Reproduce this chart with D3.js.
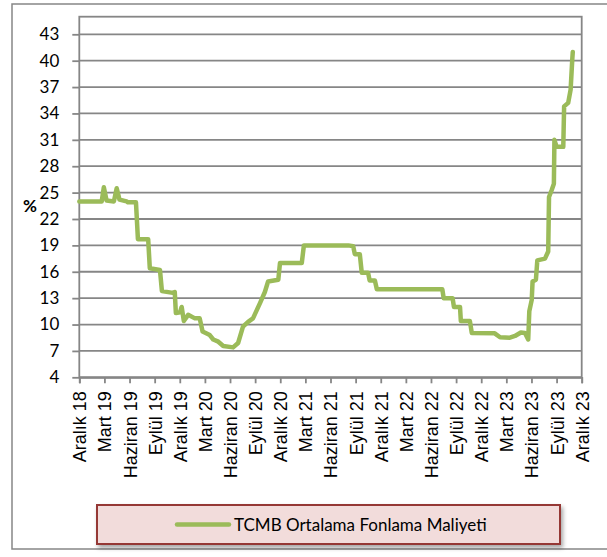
<!DOCTYPE html>
<html lang="tr">
<head>
  <meta charset="UTF-8">
  <title>TCMB Ortalama Fonlama Maliyeti</title>
  <script src="https://unpkg.com/d3@7/dist/d3.min.js"></script>
  <style>
    body { margin: 0; background: #fff; }
    .x-axis text { font-family: "Liberation Sans", Arial, sans-serif; font-size: 18px; fill: #000; }
    .y-axis text { font-family: Lato, "Noto Sans", sans-serif; font-size: 17px; fill: #000; }
  </style>
</head>
<body>
  <svg id="chart" width="607" height="557"></svg>
  <script>
    // tick labels on the x axis, one every 3 months
    const xLabels = ['Aralık 18', 'Mart 19', 'Haziran 19', 'Eylül 19', 'Aralık 19', 'Mart 20', 'Haziran 20',
      'Eylül 20', 'Aralık 20', 'Mart 21', 'Haziran 21', 'Eylül 21', 'Aralık 21', 'Mart 22', 'Haziran 22',
      'Eylül 22', 'Aralık 22', 'Mart 23', 'Haziran 23', 'Eylül 23', 'Aralık 23'];
    const yTicks = [4, 7, 10, 13, 16, 19, 22, 25, 28, 31, 34, 37, 40, 43];

    // series
    const dates = ['2018-12-01', '2019-02-20', '2019-02-27', '2019-03-09', '2019-04-05', '2019-04-15', '2019-04-25',
      '2019-05-21', '2019-05-26', '2019-06-24', '2019-07-01', '2019-08-08', '2019-08-14', '2019-09-20', '2019-09-27',
      '2019-11-06', '2019-11-13', '2019-11-17', '2019-12-02', '2019-12-08', '2019-12-16', '2020-01-01', '2020-01-26',
      '2020-02-12', '2020-02-22', '2020-03-19', '2020-04-01', '2020-04-19', '2020-05-07', '2020-06-12', '2020-06-30',
      '2020-07-18', '2020-08-06', '2020-08-24', '2020-09-18', '2020-10-06', '2020-10-18', '2020-11-24', '2020-11-30',
      '2021-02-17', '2021-02-24', '2021-08-05', '2021-08-23', '2021-08-29', '2021-09-16', '2021-09-23', '2021-10-16',
      '2021-10-22', '2021-11-10', '2021-11-17', '2022-07-12', '2022-07-17', '2022-08-19', '2022-08-24', '2022-09-15',
      '2022-09-18', '2022-10-21', '2022-10-28', '2023-01-20', '2023-02-08', '2023-03-14', '2023-04-02', '2023-04-23',
      '2023-05-08', '2023-05-20', '2023-05-24', '2023-06-02', '2023-06-05', '2023-06-17', '2023-06-22', '2023-07-20',
      '2023-08-01', '2023-08-04', '2023-08-14', '2023-08-22', '2023-08-24', '2023-09-01', '2023-09-25', '2023-09-28',
      '2023-10-13', '2023-10-22', '2023-10-28', '2023-10-30'];
    const values = [24.0, 24.0, 25.6, 24.1, 24.0, 25.5, 24.2,
      24.0, 23.9, 23.9, 19.7, 19.7, 16.4, 16.2, 13.8,
      13.6, 13.7, 11.3, 11.4, 12.0, 10.4, 11.1, 10.7,
      10.7, 9.2, 8.8, 8.3, 8.05, 7.56, 7.4, 7.9,
      9.75, 10.3, 10.7, 12.4, 13.7, 14.9, 15.1, 17.0,
      17.0, 19.0, 19.0, 18.9, 18.0, 18.0, 15.9, 15.9,
      15.0, 15.0, 14.0, 14.0, 13.0, 13.0, 12.0, 12.0,
      10.4, 10.4, 9.05, 9.0, 8.55, 8.5, 8.7, 9.1,
      9.05, 8.3, 11.5, 12.8, 14.9, 15.1, 17.3, 17.5,
      18.3, 24.5, 25.3, 26.0, 31.0, 30.2, 30.2, 34.8,
      35.2, 36.7, 40.1, 41.0];

    // the axis is spaced evenly by month, so dates become month offsets from Aralık 2018
    const monthIndex = s => {
      const [yy, mm, dd] = s.split('-').map(Number);
      const daysInMonth = new Date(yy, mm, 0).getDate();
      return (yy - 2018) * 12 + (mm - 12) + (dd - 1) / daysInMonth;
    };
    const data = dates.map((d, i) => ({ m: monthIndex(d), v: values[i] }));

    const svg = d3.select('#chart');
    const gray = '#868686';
    const plot = { left: 79.3, right: 581.7, top: 16.7, bottom: 377.3 };

    const x = d3.scaleLinear().domain([0, 60]).range([plot.left, plot.right]);
    const y = d3.scaleLinear().domain([4, 43]).range([plot.bottom, 34.3]);

    // shadow for the legend box
    const defs = svg.append('defs');
    defs.append('filter').attr('id', 'shadow')
        .attr('x', '-5%').attr('y', '-30%').attr('width', '110%').attr('height', '160%')
      .append('feDropShadow')
        .attr('dx', 2).attr('dy', 3).attr('stdDeviation', 2)
        .attr('flood-color', '#000').attr('flood-opacity', 0.35);

    // outer frame
    svg.append('rect')
      .attr('x', 12).attr('y', 4)
      .attr('width', 640).attr('height', 545)
      .attr('fill', 'none').attr('stroke', gray).attr('stroke-width', 1.5);

    // gridlines
    svg.append('g').selectAll('line').data(yTicks)
      .enter().append('line')
        .attr('x1', plot.left).attr('x2', plot.right)
        .attr('y1', d => y(d)).attr('y2', d => y(d))
        .attr('stroke', gray).attr('stroke-width', 1.8);

    // plot area border
    svg.append('rect')
      .attr('x', plot.left).attr('y', plot.top)
      .attr('width', plot.right - plot.left).attr('height', plot.bottom - plot.top)
      .attr('fill', 'none').attr('stroke', gray).attr('stroke-width', 1.8);

    const yAxis = svg.append('g')
      .attr('class', 'y-axis')
      .attr('transform', `translate(${plot.left}, 0)`)
      .call(d3.axisLeft(y).tickValues(yTicks).tickSize(7).tickPadding(13));
    yAxis.select('.domain').remove();
    yAxis.selectAll('.tick line').attr('stroke', gray).attr('stroke-width', 1.8);

    const xAxis = svg.append('g')
      .attr('class', 'x-axis')
      .attr('transform', `translate(0, ${plot.bottom})`)
      .call(d3.axisBottom(x).tickValues(d3.range(0, 61, 3)).tickFormat((d, i) => xLabels[i]).tickSize(6));
    xAxis.select('.domain').attr('stroke', gray).attr('stroke-width', 1.8);
    xAxis.selectAll('.tick line').attr('stroke', gray).attr('stroke-width', 1.8);
    xAxis.selectAll('.tick text')
      .attr('transform', 'rotate(-90)')
      .attr('text-anchor', 'end')
      .attr('x', -14)
      .attr('y', 0)
      .attr('dy', '0.36em');

    // % label
    svg.append('text')
      .attr('x', 30).attr('y', 212)
      .attr('text-anchor', 'middle')
      .attr('font-family', 'Lato, sans-serif')
      .attr('font-weight', 'bold')
      .attr('font-size', 17)
      .text('%');

    // series line
    const line = d3.line()
      .x(d => x(d.m))
      .y(d => y(d.v));
    svg.append('path')
      .datum(data)
      .attr('d', line)
      .attr('fill', 'none')
      .attr('stroke', '#9bbb59')
      .attr('stroke-width', 4.5)
      .attr('stroke-linejoin', 'round')
      .attr('stroke-linecap', 'round');

    // legend
    const legend = svg.append('g');
    legend.append('rect')
      .attr('x', 97).attr('y', 505)
      .attr('width', 463).attr('height', 39)
      .attr('fill', '#f2dcdb')
      .attr('stroke', '#953735').attr('stroke-width', 2)
      .attr('filter', 'url(#shadow)');
    legend.append('line')
      .attr('x1', 177).attr('x2', 229)
      .attr('y1', 524.5).attr('y2', 524.5)
      .attr('stroke', '#9bbb59').attr('stroke-width', 4.5)
      .attr('stroke-linecap', 'round');
    legend.append('text')
      .attr('x', 234).attr('y', 530.5)
      .attr('font-family', 'Lato, sans-serif')
      .attr('font-size', 17)
      .attr('fill', '#000')
      .text('TCMB Ortalama Fonlama Maliyeti');
  </script>
</body>
</html>
